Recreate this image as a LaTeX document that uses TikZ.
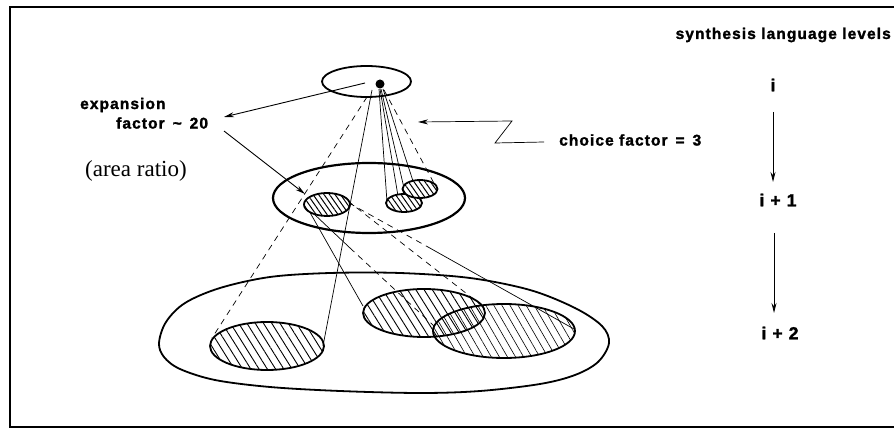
\documentclass[tikz,border=0pt]{standalone}
\usepackage{fontspec}
\setmainfont{Liberation Serif}
\newfontfamily\labfont[LetterSpace=7, BoldFeatures={FakeBold=1.6}]{Liberation Sans}
\usetikzlibrary{patterns.meta,arrows.meta}
\begin{document}
\begin{tikzpicture}[x=1pt,y=-1pt,
  outl/.style={line width=1.8pt},
  coneline/.style={line width=0.7pt},
  conedash/.style={line width=0.7pt, dash pattern=on 6pt off 5pt},
  lbl/.style={font=\labfont\bfseries\fontsize{15.5}{18}\selectfont, inner sep=0pt},
  lvl/.style={font=\labfont\bfseries\fontsize{17.5}{20}\selectfont, inner sep=0pt},
  arr/.style={line width=0.9pt, -{Stealth[length=10pt,width=5pt]}},
  hatchS/.style={pattern={Lines[angle=-55,distance=4.5pt,line width=1pt]}},
  hatchB/.style={pattern={Lines[angle=-58,distance=7pt,line width=0.9pt]}},
  hatchC/.style={pattern={Lines[angle=-60,distance=7pt,line width=0.6pt]}}
]
\useasboundingbox (0,0) rectangle (894,430);
% frame
\draw[line width=1.8pt] (894,7) -- (10,7) -- (10,427) -- (894,427);

% cone lines from the apex
\draw[conedash] (367,97) -- (212,338);
\draw[coneline] (372,90) -- (323,346);
\draw[coneline] (379,89) -- (387,202);
\draw[coneline] (380,89) -- (398,196);
\draw[coneline] (381,89) -- (404,188);
\draw[coneline] (383,89) -- (413,181);
\draw[conedash] (384,90) -- (436,187);
% cone lines from the left small ellipse
\draw[coneline] (308,209) -- (363,306);
\draw[conedash] (348,201) -- (485,308);
\draw[coneline] (313,213) -- (350,248);
\draw[conedash] (350,248) -- (434,326);
\draw[conedash] (349,203) -- (428,247);
\draw[coneline] (428,247) -- (574,329);

% level i
\draw[outl] (366.5,81.5) ellipse [x radius=44.5pt, y radius=15.5pt];
\fill (380,84) circle [radius=4.5pt];
% level i+1
\draw[line width=2.2pt] (369,198) ellipse [x radius=96pt, y radius=35pt];
\draw[outl, fill=white] (327,204.5) ellipse [x radius=23pt, y radius=11.5pt];
\fill[hatchS] (327,204.5) ellipse [x radius=23pt, y radius=11.5pt];
\draw[outl, fill=white] (404,203) ellipse [x radius=18pt, y radius=9pt];
\fill[hatchS] (404,203) ellipse [x radius=18pt, y radius=9pt];
\draw[outl, fill=white] (420,189) ellipse [x radius=17.5pt, y radius=9pt];
\fill[hatchS] (420,189) ellipse [x radius=17.5pt, y radius=9pt];
% level i+2
\draw[outl] plot[smooth cycle, tension=0.55] coordinates {(159,343) (166,322) (185,303) (220,288) (270,277) (330,273) (400,273) (470,278) (530,290) (575,308) (602,326) (609,343) (598,362) (575,375) (540,384) (480,391) (420,393) (340,391) (270,387) (215,380) (180,369) (164,357)};
\draw[outl, hatchB] (267,346) ellipse [x radius=57pt, y radius=24pt];
\draw[outl, hatchB] (424,313) ellipse [x radius=61pt, y radius=24pt];
\draw[outl, hatchC] (504,331) ellipse [x radius=71pt, y radius=27pt];

% labels
\node[lbl, anchor=west] (exp) at (80,105) {expansion};
\node[lbl, anchor=west] (fac) at (116,123) {factor \,\textasciitilde\ \,20};
\node[font=\fontsize{23}{26}\selectfont, anchor=west, inner sep=0pt] (area) at (85,171) {(area ratio)};
\node[lbl, anchor=west] (choice) at (559,140) {choice factor \,=\, 3};
\node[lbl, anchor=east] (syn) at (891,35) {synthesis language levels};
\node[lvl] (li) at (773,85) {i};
\node[lvl] (li1) at (778,200) {i + 1};
\node[lvl] (li2) at (780,333) {i + 2};

% arrows
\coordinate (t1) at (365,83);
\coordinate (e1) at (224,117);
\coordinate (e2) at (224,131);
\coordinate (s1) at (305,194);
\draw[arr] (t1) -- (e1);
\draw[arr] (e2) -- (s1);
\draw[arr, line width=0.7pt] (544,142) -- (495,143) -- (512,121) -- (418,122);
\draw[arr] (773,112) -- (773,182);
\draw[arr] (774,233) -- (774,313);
\end{tikzpicture}
\end{document}
